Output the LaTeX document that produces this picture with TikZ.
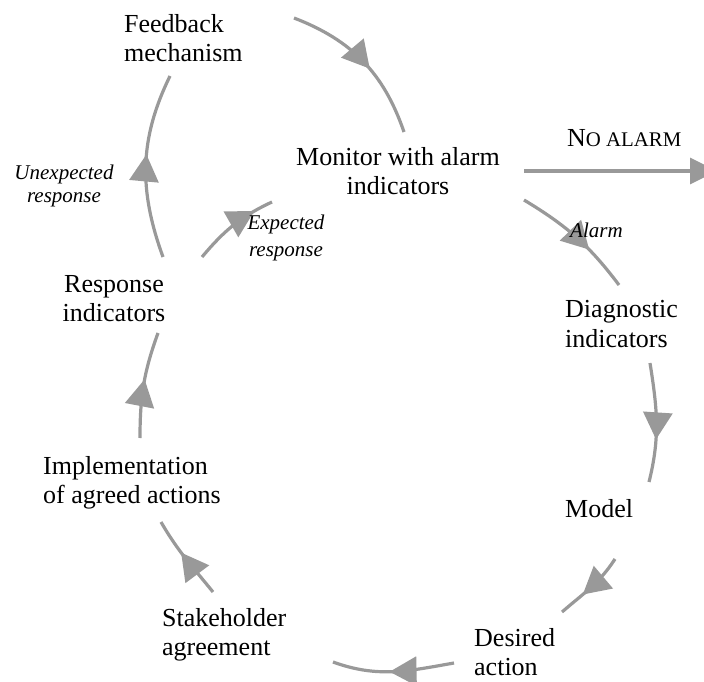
\documentclass[tikz,border=0pt]{standalone}
\usepackage{fontspec}
\setmainfont{Liberation Serif}
\usetikzlibrary{arrows.meta,decorations.markings}
\definecolor{arcgray}{RGB}{153,153,153}
\begin{document}
\begin{tikzpicture}[x=1pt,y=1pt,
  lbl/.style={inner sep=0pt, font=\fontsize{26}{29}\selectfont},
  ilbl/.style={inner sep=0pt, font=\fontsize{21}{25}\selectfont\itshape},
  flow/.style={color=arcgray, line width=3.2pt, postaction={decorate},
    decoration={markings, mark=at position #1 with {\arrow{Triangle[length=27pt,width=29pt]}}}},
  straightflow/.style={color=arcgray, line width=3.5pt, -{Triangle[length=27pt,width=26pt]}}
]
\useasboundingbox (0,0) rectangle (704,681);
% connector end points
\coordinate (fbout) at (294,663);   \coordinate (monin1) at (404,549);
\coordinate (respout1) at (163,424); \coordinate (fbin) at (170,605);
\coordinate (respout2) at (202,424); \coordinate (monin2) at (272,479);
\coordinate (monout1) at (524,510); \coordinate (exitpt) at (717,510);
\coordinate (monout2) at (524,481); \coordinate (diagin) at (619,396);
\coordinate (diagout) at (650,318); \coordinate (modelin) at (649,199);
\coordinate (modelout) at (615,122); \coordinate (desin) at (562,69);
\coordinate (desout) at (454,18); \coordinate (stakein) at (333,19);
\coordinate (stakeout) at (213,89); \coordinate (implin) at (161,159);
\coordinate (implout) at (140,243); \coordinate (respin) at (158,348);
% connectors
\draw[flow=0.56] (fbout) to[out=-21,in=109] (monin1);
\draw[flow=0.56] (respout1) to[out=110,in=-116] (fbin);
\draw[flow=0.78] (respout2) to[out=50,in=205] (monin2);
\draw[straightflow] (monout1) -- (exitpt);
\draw[flow=0.64] (monout2) to[out=-31,in=127] (diagin);
\draw[flow=0.64] (diagout) to[out=-81,in=76] (modelin);
\draw[flow=0.64] (modelout) to[out=-123,in=41] (desin);
\draw[flow=0.53] (desout) to[out=190,in=-20] (stakein);
\draw[flow=0.58] (stakeout) to[out=129,in=-60] (implin);
\draw[flow=0.55] (implout) to[out=90,in=-110] (respin);
% nodes (base = baseline of the last line)
\node[lbl, anchor=base west, align=left] (fb) at (124,619.3) {Feedback\\mechanism};
\node[lbl, anchor=base, align=center] (mon) at (398,486) {Monitor with alarm\\indicators};
\node[inner sep=0pt, anchor=base west] (noal) at (567,534) {\fontsize{26}{29}\selectfont N\fontsize{20.8}{25}\selectfont O ALARM};
\node[ilbl, anchor=base, align=center, font=\fontsize{21}{23}\selectfont\itshape] (unexp) at (64,478) {Unexpected\\response};
\node[ilbl, anchor=base, align=center, font=\fontsize{21}{27}\selectfont\itshape] (exp) at (286,424) {Expected\\response};
\node[ilbl, anchor=base west] (alarm) at (570,443) {Alarm};
\node[lbl, anchor=base, align=center] (resp) at (114,359) {Response\\indicators};
\node[lbl, anchor=base west, align=left] (diag) at (565,334) {Diagnostic\\indicators};
\node[lbl, anchor=base west, align=left] (impl) at (43,178) {Implementation\\of agreed actions};
\node[lbl, anchor=base west] (model) at (565,164) {Model};
\node[lbl, anchor=base west, align=left] (stake) at (162,26) {Stakeholder\\agreement};
\node[lbl, anchor=base west, align=left] (des) at (474,6) {Desired\\action};
\end{tikzpicture}
\end{document}
